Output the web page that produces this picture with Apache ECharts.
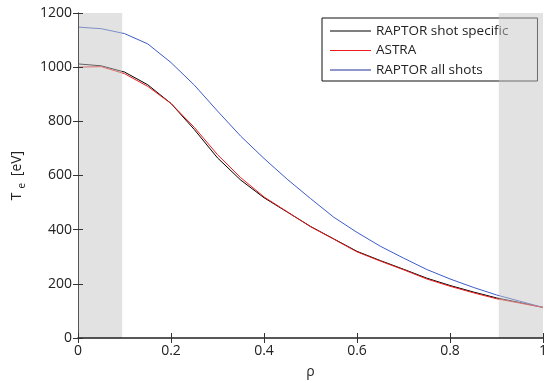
<!DOCTYPE html>
<html><head><meta charset="utf-8">
<script src="https://cdn.jsdelivr.net/npm/echarts@6/dist/echarts.min.js"></script>
<style>html,body{margin:0;padding:0;background:#fff}#c{width:547px;height:383px}</style>
</head><body><div id="c"></div>
<script>
const rho = [0, 0.05, 0.1, 0.15, 0.2, 0.25, 0.3, 0.35, 0.4, 0.45, 0.5, 0.55, 0.6, 0.65, 0.7, 0.75, 0.8, 0.85, 0.9, 0.95, 1];
const raptorShot = [1012, 1005, 982, 935, 866, 770, 665, 583, 518, 465, 412, 366, 320, 286, 254, 221, 194, 170, 148, 131, 113];
const astra      = [1000, 1002, 976, 929, 866, 778, 677, 592, 521, 466, 411, 365, 318, 284, 252, 218, 191, 167, 145, 129, 113];
const raptorAll  = [1148, 1142, 1124, 1086, 1017, 934, 838, 745, 663, 586, 515, 446, 390, 339, 295, 253, 218, 187, 159, 136, 113];
const bands = [[0, 0.095], [0.905, 1]];
const xTicks = {min: 0, max: 1, interval: 0.2};
const yTicks = {min: 0, max: 1200, interval: 200};

const font = 'Open Sans';
const pair = (xs, ys) => xs.map((x, i) => [x, ys[i]]);
const chart = echarts.init(document.getElementById('c'), null, {renderer: 'canvas'});
const axisCommon = {
  axisLine: {show: true, lineStyle: {color: '#333', width: 1}},
  axisTick: {show: true, inside: true, length: 5, lineStyle: {color: '#333'}},
  splitLine: {show: false},
  z: 12
};
chart.setOption({
  animation: false,
  textStyle: {fontFamily: font},
  grid: {left: 78, right: 4, top: 13, bottom: 45, containLabel: false, outerBoundsMode: 'none'},
  legend: {
    orient: 'vertical', left: 322, top: 18,
    padding: [6, 29, 4, 8], itemGap: 5.5, itemWidth: 41, itemHeight: 1,
    icon: 'rect',
    backgroundColor: '#fff', borderColor: '#111', borderWidth: 1, borderRadius: 0,
    textStyle: {fontFamily: font, fontSize: 13.5, lineHeight: 14, color: '#222'},
    data: ['RAPTOR shot specific', 'ASTRA', 'RAPTOR all shots']
  },
  xAxis: [
    Object.assign({type: 'value', position: 'bottom', min: xTicks.min, max: xTicks.max, interval: xTicks.interval,
      name: 'ρ', nameLocation: 'middle', nameGap: 27,
      nameTextStyle: {fontFamily: font, fontSize: 14, color: '#222'},
      axisLabel: {fontFamily: font, fontSize: 14, color: '#222', margin: 6, formatter: v => String(v)}}, axisCommon,
      {axisLine: {show: true, lineStyle: {color: '#222', width: 1.5}}}),
    Object.assign({type: 'value', position: 'top', min: xTicks.min, max: xTicks.max, interval: xTicks.interval,
      axisLabel: {show: false}}, axisCommon, {axisLine: {show: true, lineStyle: {color: '#555', width: 1}}})
  ],
  yAxis: [
    Object.assign({type: 'value', position: 'left', min: yTicks.min, max: yTicks.max, interval: yTicks.interval,
      name: '{t|T}{e|e}{t| [eV]}', nameLocation: 'middle', nameGap: 51, nameRotate: 90,
      nameTextStyle: {fontFamily: font, color: '#222',
        rich: {t: {fontFamily: font, fontSize: 14, color: '#222'},
               e: {fontFamily: font, fontSize: 10, color: '#222', padding: [9, 3, 0, 4]}}},
      axisLabel: {fontFamily: font, fontSize: 14, color: '#222', margin: 6, formatter: v => String(v)}}, axisCommon),
    Object.assign({type: 'value', position: 'right', min: yTicks.min, max: yTicks.max, interval: yTicks.interval,
      axisLabel: {show: false}}, axisCommon, {axisLine: {show: true, lineStyle: {color: '#555', width: 1}}})
  ],
  series: [
    {name: 'RAPTOR shot specific', type: 'line', data: pair(rho, raptorShot), symbol: 'none',
      lineStyle: {color: '#000', width: 1}, itemStyle: {color: '#000'}, z: 3},
    {name: 'ASTRA', type: 'line', data: pair(rho, astra), symbol: 'none',
      lineStyle: {color: '#ee1c1c', width: 1}, itemStyle: {color: '#ee1c1c'}, z: 4},
    {name: 'RAPTOR all shots', type: 'line', data: pair(rho, raptorAll), symbol: 'none',
      lineStyle: {color: '#3c5ac8', width: 1}, itemStyle: {color: '#1f2f9a'}, z: 3},
    {type: 'custom', z: 10, silent: true, data: bands,
      renderItem: function (params, api) {
        const p0 = api.coord([api.value(0), yTicks.max]);
        const p1 = api.coord([api.value(1), yTicks.min]);
        return {type: 'rect', shape: {x: p0[0], y: p0[1], width: p1[0] - p0[0], height: p1[1] - p0[1]},
          style: {fill: 'rgba(195,198,195,0.5)'}};
      },
      encode: {x: [0, 1]}}
  ]
});
</script></body></html>
